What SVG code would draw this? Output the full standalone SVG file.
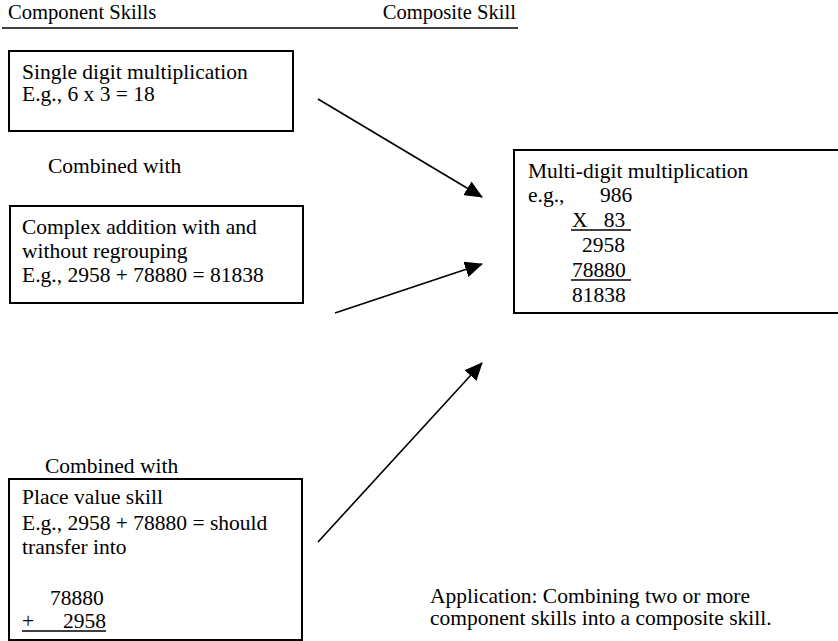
<svg xmlns="http://www.w3.org/2000/svg" width="838" height="641" viewBox="0 0 838 641" font-family="'Liberation Serif', 'Times New Roman', 'DejaVu Serif', serif" font-size="21.5">
<defs>
<style>
text{font-family:'Liberation Serif','Times New Roman','DejaVu Serif',serif;font-size:21.5px;fill:#000}
.hd{font-size:20.6px}
.box{fill:none;stroke:#000;stroke-width:2}
.conn{stroke:#000;stroke-width:1.6;fill:none}
.ul{stroke:#000;stroke-width:1.3}
</style>
<marker id="ah" markerUnits="userSpaceOnUse" markerWidth="18" markerHeight="16" viewBox="0 0 18 16" refX="17" refY="8" orient="auto">
<path d="M0,0 L18,8 L0,16 Z" fill="#000"/>
</marker>
</defs>
<rect width="838" height="641" fill="#fff"/>
<g id="header">
<text class="hd" x="8" y="19">Component Skills</text>
<text class="hd" x="516" y="19" text-anchor="end">Composite Skill</text>
<line class="ul" x1="2" y1="28" x2="518" y2="28"/>
</g>
<g id="node-single">
<rect class="box" x="9" y="51" width="284" height="80"/>
<text x="22" y="79">Single digit multiplication</text>
<text x="22" y="101">E.g., 6 x 3 = 18</text>
</g>
<g id="label-combined1">
<text x="48" y="173">Combined with</text>
</g>
<g id="node-addition">
<rect class="box" x="10" y="206" width="293" height="97"/>
<text x="22" y="234">Complex addition with and</text>
<text x="22" y="258">without regrouping</text>
<text x="22" y="282">E.g., 2958 + 78880 = 81838</text>
</g>
<g id="node-multidigit">
<rect class="box" x="514" y="150" width="330" height="163"/>
<text x="528" y="178">Multi-digit multiplication</text>
<text x="528" y="202">e.g.,</text>
<text x="600" y="202">986</text>
<text x="572" y="227" xml:space="preserve">X   83</text>
<line class="ul" x1="571" y1="230" x2="631" y2="230"/>
<text x="582" y="252">2958</text>
<text x="572" y="277">78880</text>
<line class="ul" x1="571" y1="280" x2="631" y2="280"/>
<text x="572" y="302">81838</text>
</g>
<g id="label-combined2">
<text x="45" y="473">Combined with</text>
</g>
<g id="node-placevalue">
<rect class="box" x="9" y="479" width="293" height="161"/>
<text x="22" y="504">Place value skill</text>
<text x="22" y="530">E.g., 2958 + 78880 = should</text>
<text x="22" y="554">transfer into</text>
<text x="50" y="605">78880</text>
<text x="22" y="628">+</text>
<text x="63" y="628">2958</text>
<line class="ul" x1="22" y1="631" x2="106" y2="631"/>
</g>
<g id="note">
<text x="430" y="603">Application: Combining two or more</text>
<text x="430" y="625">component skills into a composite skill.</text>
</g>
<g id="connectors">
<line class="conn" x1="318" y1="99" x2="482" y2="197" marker-end="url(#ah)"/>
<line class="conn" x1="335" y1="313" x2="482" y2="264" marker-end="url(#ah)"/>
<line class="conn" x1="318" y1="542" x2="482" y2="363" marker-end="url(#ah)"/>
</g>
</svg>
